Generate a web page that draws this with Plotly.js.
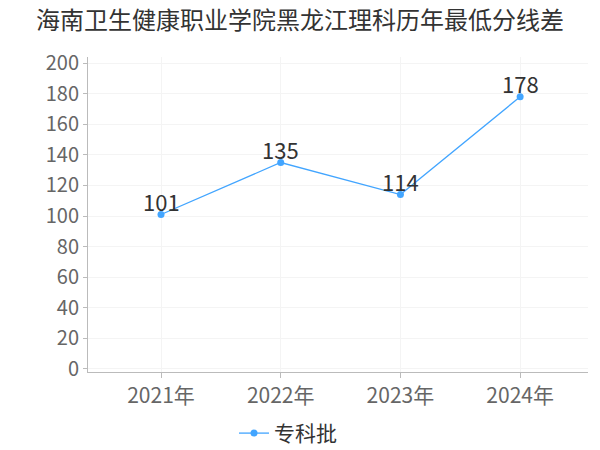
<!DOCTYPE html>
<html><head><meta charset="utf-8">
<script src="https://cdn.plot.ly/plotly-3.0.1.min.js"></script>
<style>body{margin:0;}#c{width:600px;height:450px;}</style>
</head><body><div id="c"></div>
<script>
const categories = ["2021年", "2022年", "2023年", "2024年"];
const values = [101, 135, 114, 178];
const seriesName = "专科批";
const yTicks = [0, 20, 40, 60, 80, 100, 120, 140, 160, 180, 200];

const F = "Noto Sans CJK SC, Noto Sans, sans-serif";
const trace = {
  x: categories, y: values, name: seriesName, type: "scatter", mode: "lines+markers",
  line: {color: "#42a5ff", width: 1.3},
  marker: {color: "#42a5ff", size: 7},
  cliponaxis: false
};
const annotations = categories.map((c, i) => ({
  x: c, y: values[i], xref: "x", yref: "y", text: String(values[i]),
  showarrow: false, yanchor: "middle", xanchor: "center", yshift: 14,
  font: {family: F, size: 22, color: "#333"}
}));
const layout = {
  width: 600, height: 450,
  margin: {l: 88, r: 12, t: 57, b: 78, autoexpand: false},
  paper_bgcolor: "#fff", plot_bgcolor: "#fff",
  title: {text: "海南卫生健康职业学院黑龙江理科历年最低分线差", font: {family: F, size: 24, color: "#333"}, x: 0.5, xanchor: "center", y: 0.955, yanchor: "middle"},
  xaxis: {type: "category", range: [-0.61, 3.567], showline: true, linecolor: "#bbb", linewidth: 1,
    ticks: "outside", ticklen: 5, tickcolor: "#bbb", showgrid: true, gridcolor: "#f4f4f4",
    tickfont: {family: F, size: 21, color: "#666"}, zeroline: false, fixedrange: true},
  yaxis: {range: [-2, 204], tickvals: yTicks, showline: true, linecolor: "#bbb", linewidth: 1,
    ticks: "outside", ticklen: 4, tickcolor: "#bbb", showgrid: true, gridcolor: "#f4f4f4",
    tickfont: {family: F, size: 20, color: "#666"}, zeroline: false, fixedrange: true},
  annotations: annotations,
  showlegend: true,
  legend: {orientation: "h", x: 0.40, xanchor: "center", y: -0.13, yanchor: "top",
    font: {family: F, size: 21, color: "#333"}, itemwidth: 30}
};
Plotly.newPlot("c", [trace], layout, {displayModeBar: false, staticPlot: true});
</script></body></html>
